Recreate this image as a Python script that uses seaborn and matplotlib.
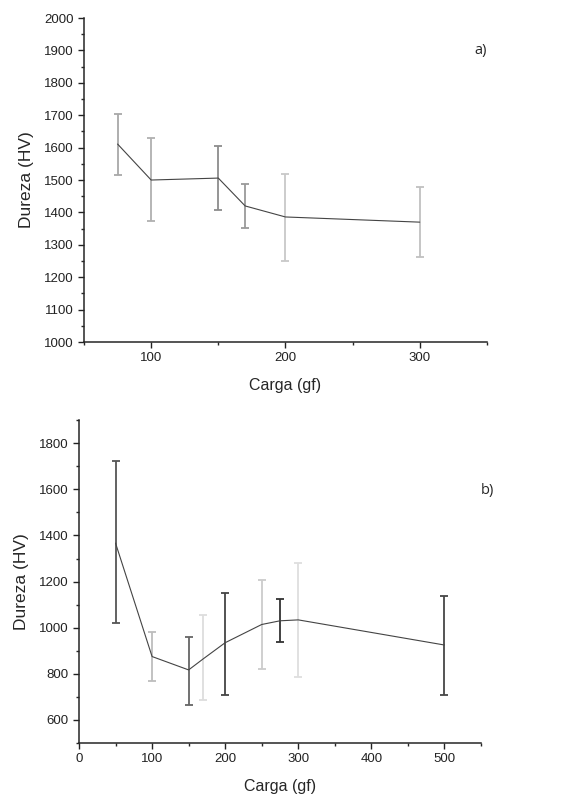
#!/usr/bin/env python3
"""
Dureza (HV) vs carga (gf), two panels with error bars.
"""
import pandas as pd
import seaborn as sns
import matplotlib.pyplot as plt
from matplotlib.ticker import MultipleLocator

# panel a)
carga_a = [75, 100, 150, 170, 200, 300]
dureza_a = [1611, 1500, 1506, 1420, 1386, 1370]
err_lo_a = [1516, 1373, 1407, 1351, 1250, 1262]
err_hi_a = [1705, 1629, 1604, 1487, 1520, 1477]
cor_a = ['#a8a8a8', '#b0b0b0', '#8c8c8c', '#9a9a9a', '#c8c8c8', '#c0c0c0']

# panel b)
carga_b = [50, 100, 150, 170, 200, 250, 275, 300, 500]
dureza_b = [1367, 875, 817, 865, 935, 1014, 1030, 1034, 925]
err_lo_b = [1019, 769, 667, 686, 710, 820, 936, 785, 710]
err_hi_b = [1722, 980, 961, 1055, 1151, 1206, 1124, 1281, 1137]
cor_b = ['#555555', '#bdbdbd', '#666666', '#dddddd', '#444444',
         '#cccccc', '#333333', '#dedede', '#474747']

sns.set_style('ticks')
plt.rcParams['font.family'] = ['Liberation Sans', 'DejaVu Sans']


def painel(ax, x, y, lo, hi, cores, xlim, ylim, xmaj, ymaj, letra, letra_pos):
    df = pd.DataFrame({'Carga': x, 'Dureza': y})
    sns.lineplot(data=df, x='Carga', y='Dureza', ax=ax, color='#444444',
                 linewidth=0.8, zorder=3)
    for xi, yi, l, h, c in zip(x, y, lo, hi, cores):
        ax.errorbar([xi], [yi], yerr=[[yi - l], [h - yi]], fmt='none',
                    ecolor=c, elinewidth=1.3, capsize=3, capthick=1.3, zorder=2)
    ax.set_xlim(*xlim)
    ax.set_ylim(*ylim)
    ax.xaxis.set_major_locator(MultipleLocator(xmaj))
    ax.xaxis.set_minor_locator(MultipleLocator(xmaj / 2))
    ax.yaxis.set_major_locator(MultipleLocator(ymaj))
    ax.yaxis.set_minor_locator(MultipleLocator(ymaj / 2))
    ax.tick_params(which='major', length=4, width=1, labelsize=9.5, colors='#222222')
    ax.tick_params(which='minor', length=2.5, width=1)
    for s in ['top', 'right']:
        ax.spines[s].set_visible(False)
    for s in ['left', 'bottom']:
        ax.spines[s].set_linewidth(1.1)
    ax.set_xlabel('Carga (gf)', fontsize=11.5, labelpad=10)
    ax.set_ylabel('Dureza (HV)', fontsize=12.5, labelpad=7)
    ax.text(*letra_pos, letra, transform=ax.transAxes, fontsize=10.5,
            family=['Open Sans', 'DejaVu Sans'])


fig = plt.figure(figsize=(5.65, 8.01), dpi=100)
ax1 = fig.add_axes([0.1487, 0.573, 0.713, 0.4045])
ax2 = fig.add_axes([0.1398, 0.0724, 0.7115, 0.403])

painel(ax1, carga_a, dureza_a, err_lo_a, err_hi_a, cor_a,
       (50, 350), (1000, 2000), 100, 100, 'a)', (0.97, 0.89))
ax1.set_xticks([100, 200, 300])
painel(ax2, carga_b, dureza_b, err_lo_b, err_hi_b, cor_b,
       (0, 550), (500, 1900), 100, 200, 'b)', (1.0, 0.77))

fig.savefig('out.png', dpi=100)
plt.close(fig)
